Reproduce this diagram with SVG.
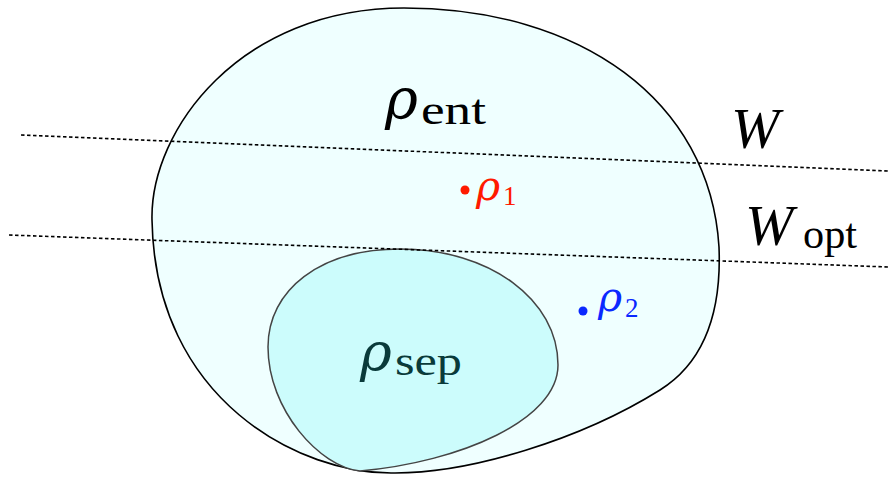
<svg xmlns="http://www.w3.org/2000/svg" width="888" height="477" viewBox="0 0 888 477">
<style>
.m{font-family:"DejaVu Serif",serif;font-style:italic}
.w{font-family:"Liberation Serif","Times New Roman",serif;font-style:italic}
.u{font-family:"Liberation Serif","Times New Roman",serif;font-style:normal}
.dl{fill:none;stroke:#000;stroke-width:1.6;stroke-dasharray:3.5 2.5}
</style>
<rect width="888" height="477" fill="#fff"/>
<g id="rho-ent">
<path d="M152,220 C150,130 240,8 404,8 C580,8 710,100 719,247 C722,320 700,365 660,390 C580,440 470,473 395,473 C300,475 155,400 152,220 Z" fill="#efffff" stroke="#000" stroke-width="1.6"/>
<text x="385" y="118" class="m" font-size="56">ρ</text>
<text x="421" y="124" class="u" font-size="42" textLength="65" lengthAdjust="spacingAndGlyphs">ent</text>
</g>
<g id="rho-sep">
<path d="M268,347 C268,290 320,249 400,249 C490,249 558,300 558,365 C558,420 460,462 360,471 C320,467 268,410 268,347 Z" fill="#ccfcfc" stroke="#444" stroke-width="1.5"/>
<text x="360" y="371" class="m" font-size="54" fill="#0a3a3a">ρ</text>
<text x="395" y="375" class="u" font-size="42" textLength="67" lengthAdjust="spacingAndGlyphs" fill="#0a3a3a">sep</text>
</g>
<g id="lines">
<line x1="21" y1="135" x2="888" y2="171" class="dl"/>
<line x1="9" y1="235" x2="888" y2="267" class="dl"/>
</g>
<g id="rho1">
<circle cx="465" cy="190" r="4.5" fill="#ff1a00"/>
<text x="476" y="200" class="m" font-size="41" fill="#ff1a00">ρ</text>
<text x="503" y="205" class="u" font-size="27" fill="#ff1a00">1</text>
</g>
<g id="rho2">
<circle cx="583" cy="311" r="4.5" fill="#0a28ff"/>
<text x="598" y="311" class="m" font-size="41" fill="#0a28ff">ρ</text>
<text x="625" y="317" class="u" font-size="27" fill="#0a28ff">2</text>
</g>
<g id="W">
<text x="731" y="148" class="w" font-size="58">W</text>
</g>
<g id="Wopt">
<text x="745" y="245" class="w" font-size="58">W</text>
<text x="803" y="248" class="u" font-size="42" textLength="54" lengthAdjust="spacingAndGlyphs">opt</text>
</g>
</svg>
